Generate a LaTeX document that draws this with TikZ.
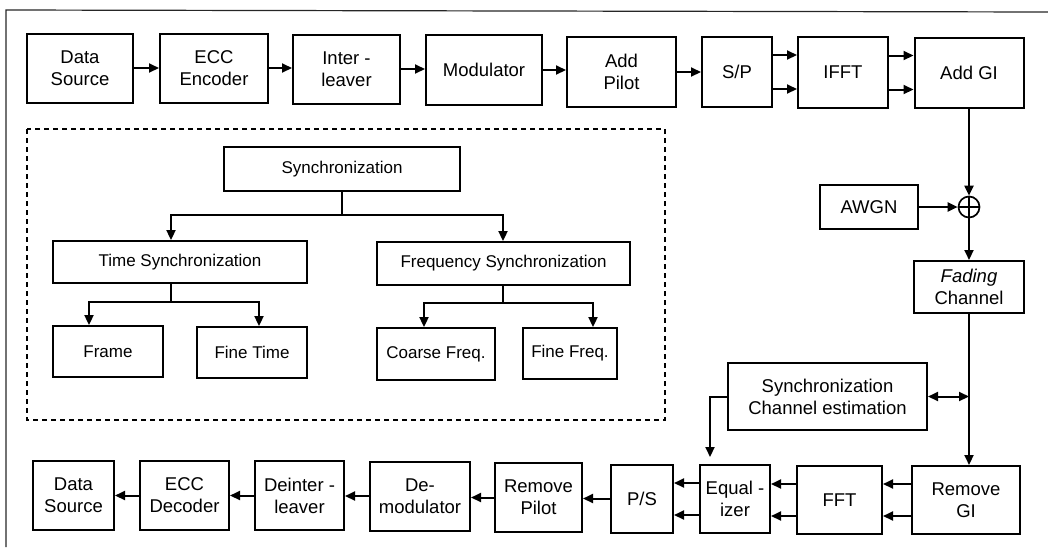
\documentclass[tikz,border=0pt]{standalone}
\usepackage{fontspec}
\setmainfont{Liberation Sans}
\usetikzlibrary{arrows.meta,calc}
\begin{document}
\begin{tikzpicture}[x=1pt,y=-1pt,
  box/.style={draw, line width=2pt, align=center, inner sep=0pt, font=\fontsize{18.5}{22}\selectfont},
  sbox/.style={draw, line width=1.9pt, align=center, inner sep=0pt, font=\fontsize{17}{20}\selectfont},
  arr/.style={line width=2pt, -{Triangle[length=10pt,width=9pt]}},
  darr/.style={line width=2pt, {Triangle[length=10pt,width=9pt]}-{Triangle[length=10pt,width=9pt]}},
  ln/.style={line width=2pt},
  dashbox/.style={line width=1.5pt, dash pattern=on 5pt off 4pt},
]
\useasboundingbox (0,0) rectangle (1048,547);
% outer frame (partial)
\draw[line width=1.2pt, black!85] (6,547) -- (6,10) -- (1048,12);

% top row
\node[box, minimum width=106pt, minimum height=69pt] (ds1) at (80,68) {Data\\Source};
\node[box, minimum width=108pt, minimum height=69pt] (ecc1) at (214,68) {ECC\\Encoder};
\node[box, minimum width=107pt, minimum height=69pt] (il) at (346.5,69) {Inter -\\leaver};
\node[box, minimum width=116pt, minimum height=70pt] (mod) at (484,70) {Modulator};
\node[box, minimum width=109pt, minimum height=70pt] (ap) at (621.5,72) {Add\\Pilot};
\node[box, minimum width=70pt, minimum height=70pt] (sp) at (737,72) {S/P};
\node[box, minimum width=90pt, minimum height=71pt] (ifft) at (843,72.5) {IFFT};
\node[box, minimum width=109pt, minimum height=70pt] (agi) at (969,73) {Add GI};

\draw[arr] (ds1) -- (ecc1);
\draw[arr] (ecc1.east) -- (ecc1.east -| il.west);
\draw[arr] (il.east) -- (il.east -| mod.west);
\draw[arr] (mod.east) -- (mod.east -| ap.west);
\draw[arr] (ap) -- (sp);
\draw[arr] ($(sp.east)+(0,-17)$) -- ($(sp.east -| ifft.west)+(0,-17)$);
\draw[arr] ($(sp.east)+(0,17)$) -- ($(sp.east -| ifft.west)+(0,17)$);
\draw[arr] ($(ifft.east)+(0,-17)$) -- ($(ifft.east -| agi.west)+(0,-17)$);
\draw[arr] ($(ifft.east)+(0,17)$) -- ($(ifft.east -| agi.west)+(0,17)$);

% channel
\node[circle, draw, line width=1.7pt, minimum size=21pt, inner sep=0pt] (add) at (969,207) {};
\draw[line width=1.5pt] (add.north) -- (add.south) (add.west) -- (add.east);
\node[box, minimum width=98pt, minimum height=44pt] (awgn) at (869,207) {AWGN};
\node[box, minimum width=110pt, minimum height=52pt] (fad) at (969,287) {\itshape Fading\\Channel};
\draw[arr] (agi.south) -- (add.north);
\draw[arr] (awgn) -- (add);
\draw[arr] (add.south) -- (fad.north);

% bottom row
\node[box, minimum width=108pt, minimum height=68pt] (rgi) at (966,500) {Remove\\GI};
\node[box, minimum width=85pt, minimum height=68pt] (fft) at (839.5,500) {FFT};
\node[box, minimum width=70pt, minimum height=68pt] (eq) at (735,499) {Equal -\\izer};
\node[box, minimum width=62pt, minimum height=68pt] (ps) at (642,498.5) {P/S};
\node[box, minimum width=87pt, minimum height=69pt] (rp) at (538.5,497.5) {Remove\\Pilot};
\node[box, minimum width=100pt, minimum height=69pt] (dm) at (420,496) {De-\\modulator};
\node[box, minimum width=89pt, minimum height=69pt] (dil) at (299.5,495.5) {Deinter -\\leaver};
\node[box, minimum width=89pt, minimum height=69pt] (eccd) at (184.5,495.5) {ECC\\Decoder};
\node[box, minimum width=81pt, minimum height=69pt] (ds2) at (73.5,495.5) {Data\\Source};

\node[box, minimum width=199pt, minimum height=67pt] (sce) at (827.5,396.5) {Synchronization\\Channel estimation};

\coordinate (vx) at (969,0);
\draw[arr] (fad.south) -- (rgi.north -| vx);
\draw[darr] (sce.east) -- (sce.east -| vx);
\coordinate (eqin) at (710,457);
\draw[arr] (sce.west) -| (eqin);

\draw[arr] ($(rgi.west)+(0,-16)$) -- ($(rgi.west -| fft.east)+(0,-16)$);
\draw[arr] ($(rgi.west)+(0,16)$) -- ($(rgi.west -| fft.east)+(0,16)$);
\draw[arr] ($(fft.west)+(0,-16)$) -- ($(fft.west -| eq.east)+(0,-16)$);
\draw[arr] ($(fft.west)+(0,16)$) -- ($(fft.west -| eq.east)+(0,16)$);
\draw[arr] ($(eq.west)+(0,-16)$) -- ($(eq.west -| ps.east)+(0,-16)$);
\draw[arr] ($(eq.west)+(0,16)$) -- ($(eq.west -| ps.east)+(0,16)$);
\draw[arr] (ps.west) -- (ps.west -| rp.east);
\draw[arr] (rp.west) -- (rp.west -| dm.east);
\draw[arr] (dm.west) -- (dm.west -| dil.east);
\draw[arr] (dil.west) -- (dil.west -| eccd.east);
\draw[arr] (eccd.west) -- (eccd.west -| ds2.east);

% dashed synchronization tree
\draw[dashbox] (27,129) rectangle (665,420);
\node[sbox, minimum width=236pt, minimum height=44pt] (sy) at (342,169) {Synchronization};
\node[sbox, minimum width=254pt, minimum height=42pt] (ts) at (180,262) {Time Synchronization};
\node[sbox, minimum width=253pt, minimum height=43pt] (fs) at (503.5,263.5) {Frequency Synchronization};
\node[sbox, minimum width=110pt, minimum height=51pt] (fr) at (108,351.5) {Frame};
\node[sbox, minimum width=110pt, minimum height=51pt] (ft) at (252,352.5) {Fine Time};
\node[sbox, minimum width=118pt, minimum height=52pt] (cf) at (436,354) {Coarse Freq.};
\node[sbox, minimum width=94pt, minimum height=51pt] (ff) at (570,353.5) {Fine Freq.};

\coordinate (j1) at (342,215);
\coordinate (tsx) at (171,0);
\coordinate (fsx) at (503,0);
\coordinate (j2) at (171,302);
\coordinate (j3) at (503,303);
\coordinate (frx) at (89,0);
\coordinate (ftx) at (259,0);
\coordinate (cfx) at (424,0);
\coordinate (ffx) at (593,0);
\draw[ln] (sy.south -| j1) -- (j1);
\draw[arr] (j1) -| (ts.north -| tsx);
\draw[arr] (j1) -| (fs.north -| fsx);
\draw[ln] (ts.south -| tsx) -- (j2);
\draw[arr] (j2) -| (fr.north -| frx);
\draw[arr] (j2) -| (ft.north -| ftx);
\draw[ln] (fs.south -| fsx) -- (j3);
\draw[arr] (j3) -| (cf.north -| cfx);
\draw[arr] (j3) -| (ff.north -| ffx);
\end{tikzpicture}
\end{document}
